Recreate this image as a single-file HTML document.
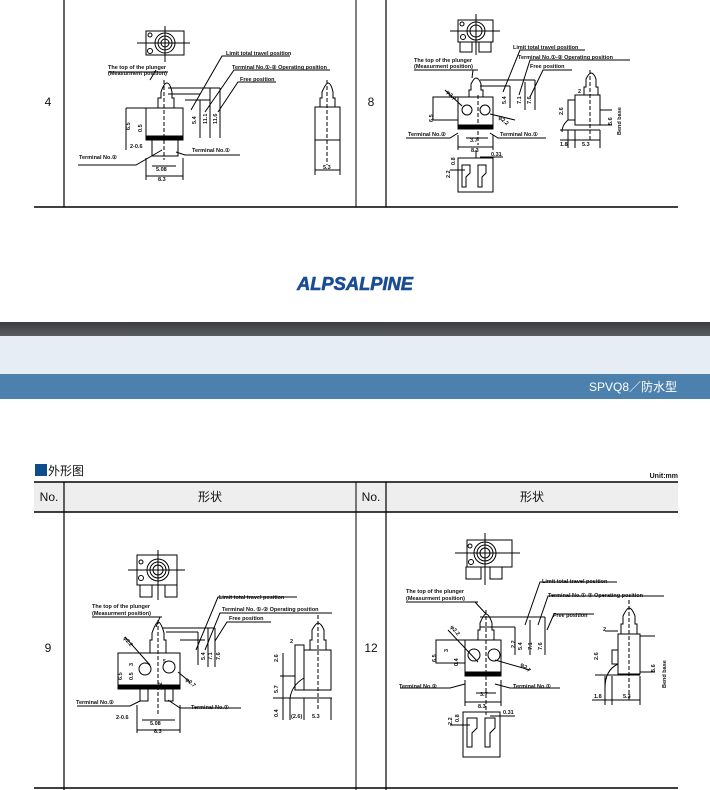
<!DOCTYPE html>
<html><head><meta charset="utf-8"><style>
html,body{margin:0;padding:0;background:#fff;width:710px;height:790px;overflow:hidden;position:relative;font-family:"Liberation Sans","Noto Sans CJK SC",sans-serif}
.a{position:absolute}
svg text{font-family:"Liberation Sans",sans-serif;font-weight:bold;fill:#111}
</style></head><body>
<svg class="a" style="left:0;top:0" width="710" height="790" viewBox="0 0 710 790">
<g stroke="#000" fill="none">
<line x1="64" y1="0" x2="64" y2="207" stroke-width="1.2"/>
<line x1="356" y1="0" x2="356" y2="207" stroke-width="1"/>
<line x1="386" y1="0" x2="386" y2="207" stroke-width="1.2"/>
<line x1="34" y1="207" x2="678" y2="207" stroke-width="1.5"/>
</g>
<text x="48" y="106" font-size="12" style="font-weight:normal" text-anchor="middle">4</text>
<text x="371" y="106" font-size="12" style="font-weight:normal" text-anchor="middle">8</text>

<text x="297" y="290" font-size="18" textLength="116" lengthAdjust="spacingAndGlyphs" style="fill:#1a4c94;font-style:italic;font-weight:bold;stroke:#1a4c94;stroke-width:0.6">ALPSALPINE</text>

<defs><linearGradient id="g" x1="0" y1="0" x2="0" y2="1"><stop offset="0" stop-color="#3a3c3f"/><stop offset="1" stop-color="#5a5d60"/></linearGradient></defs>
<rect x="0" y="322" width="710" height="14" fill="url(#g)"/>
<rect x="0" y="336" width="710" height="38" fill="#e6edf5"/>
<rect x="0" y="374" width="710" height="25" fill="#4c80ad"/>
<text x="677" y="391" font-size="12" text-anchor="end" style="fill:#fff;font-weight:normal;font-family:'Liberation Sans','Noto Sans CJK SC',sans-serif">SPVQ8／防水型</text>

<rect x="35" y="464" width="12" height="12" fill="#0f4c8a"/>
<text x="48" y="475" font-size="12" style="font-weight:normal;font-family:'Liberation Sans','Noto Sans CJK SC',sans-serif">外形图</text>
<text x="678" y="478" font-size="7" text-anchor="end">Unit:mm</text>

<rect x="34" y="483" width="644" height="29" fill="#eeeeee"/>
<g stroke="#000" fill="none">
<line x1="34" y1="482" x2="678" y2="482" stroke-width="1.5"/>
<line x1="34" y1="512" x2="678" y2="512" stroke-width="1.5"/>
<line x1="64" y1="482" x2="64" y2="790" stroke-width="1.2"/>
<line x1="356" y1="482" x2="356" y2="790" stroke-width="1"/>
<line x1="386" y1="482" x2="386" y2="790" stroke-width="1.2"/>
<line x1="34" y1="788" x2="678" y2="788" stroke-width="1.5"/>
</g>
<g font-size="12">
<text x="49" y="501" text-anchor="middle" style="font-weight:normal">No.</text>
<text x="210" y="501" text-anchor="middle" style="font-weight:normal;font-family:'Liberation Sans','Noto Sans CJK SC',sans-serif">形状</text>
<text x="371" y="501" text-anchor="middle" style="font-weight:normal">No.</text>
<text x="532" y="501" text-anchor="middle" style="font-weight:normal;font-family:'Liberation Sans','Noto Sans CJK SC',sans-serif">形状</text>
<text x="48" y="652" text-anchor="middle" style="font-weight:normal">9</text>
<text x="371" y="652" text-anchor="middle" style="font-weight:normal">12</text>
</g>

<!-- Cell 4 -->
<g stroke="#000" fill="none" stroke-width="1">
<rect x="146" y="31" width="38" height="24"/>
<circle cx="165" cy="43" r="10"/><circle cx="165" cy="43" r="7"/><circle cx="165" cy="43" r="4"/>
<circle cx="150" cy="35" r="2"/><circle cx="150" cy="51" r="2.5"/>
<line x1="137" y1="43" x2="190" y2="43"/><line x1="165" y1="26" x2="165" y2="62"/>
<path d="M158 108 V98 H161 V92 Q164 83 167 83 Q170 83 172 92 V98 H174 V108"/>
<rect x="146" y="108" width="37" height="28"/>
<rect x="146" y="136" width="37" height="4" fill="#000"/>
<rect x="152" y="140" width="26" height="16"/>
<line x1="164" y1="80" x2="164" y2="160" stroke-dasharray="4 2"/>
<line x1="146" y1="158" x2="146" y2="180"/><line x1="183" y1="158" x2="183" y2="180"/>
<line x1="146" y1="176" x2="183" y2="176"/>
<line x1="152" y1="166" x2="176" y2="166"/>
<line x1="168" y1="88" x2="220" y2="88"/><line x1="168" y1="94" x2="200" y2="94"/><line x1="185" y1="100" x2="210" y2="100"/>
<line x1="200" y1="100" x2="200" y2="138"/><line x1="210" y1="88" x2="210" y2="138"/><line x1="220" y1="88" x2="220" y2="138"/>
<path d="M191 110 L222 56 H290"/><path d="M205 112 L234 70 H330"/><path d="M218 112 L238 82 H276"/>
<path d="M156 70 L150 80"/><line x1="108" y1="72" x2="168" y2="72"/>
<line x1="126" y1="108" x2="146" y2="108"/><line x1="126" y1="108" x2="126" y2="150"/>
<path d="M162 150 L136 165 H78"/><path d="M176 152 L185 155 H240"/>
<rect x="315" y="107" width="25" height="33"/>
<path d="M320 107 V98 H322 V92 Q326 83 328 83 Q331 83 333 92 V98 H335 V107"/>
<line x1="327" y1="80" x2="327" y2="165" stroke-dasharray="4 2"/>
<line x1="315" y1="140" x2="315" y2="175"/><line x1="340" y1="140" x2="340" y2="175"/><line x1="315" y1="170" x2="340" y2="170"/>
</g>
<g font-size="5.5">
<text x="108" y="69">The top of the plunger</text><text x="108" y="75">(Measurment position)</text>
<text x="226" y="55">Limit total travel position</text>
<text x="232" y="69">Terminal No.①-② Operating position</text>
<text x="240" y="81">Free position</text>
<text x="79" y="159">Terminal No.②</text>
<text x="192" y="152">Terminal No.①</text>
<text x="130" y="148">2-0.6</text><text x="156" y="171">5.08</text><text x="158" y="181">8.3</text>
<text x="323" y="169">5.3</text>
<text transform="translate(130 130) rotate(-90)">6.5</text>
<text transform="translate(142 132) rotate(-90)">0.5</text>
<text transform="translate(196 124) rotate(-90)">5.4</text>
<text transform="translate(207 124) rotate(-90)">11.1</text>
<text transform="translate(217 124) rotate(-90)">11.6</text>
</g>

<!-- Cell 8 -->
<g stroke="#000" fill="none" stroke-width="1">
<rect x="458" y="20" width="35" height="22"/>
<circle cx="476" cy="31" r="9"/><circle cx="476" cy="31" r="6"/>
<circle cx="462" cy="24" r="2"/><circle cx="463" cy="37" r="2.5"/>
<line x1="450" y1="31" x2="500" y2="31"/><line x1="476" y1="14" x2="476" y2="55"/>
<rect x="460" y="42" width="12" height="10"/><rect x="479" y="42" width="12" height="10"/>
<path d="M469 97 V90 H471 V84 Q474 78 476 78 Q479 78 481 84 V90 H483 V97"/>
<rect x="458" y="97" width="35" height="28"/>
<rect x="433" y="97" width="25" height="23"/>
<rect x="458" y="125" width="35" height="4" fill="#000"/>
<circle cx="467" cy="110" r="5"/><circle cx="485" cy="110" r="5"/>
<line x1="478" y1="95" x2="478" y2="145" stroke-dasharray="4 2"/>
<line x1="458" y1="135" x2="458" y2="150"/><line x1="493" y1="135" x2="493" y2="150"/><line x1="458" y1="147" x2="493" y2="147"/>
<line x1="466" y1="138" x2="488" y2="138"/>
<line x1="480" y1="80" x2="535" y2="80"/><line x1="480" y1="86" x2="510" y2="86"/>
<line x1="510" y1="86" x2="510" y2="108"/><line x1="525" y1="82" x2="525" y2="110"/><line x1="535" y1="80" x2="535" y2="110"/>
<path d="M503 92 L520 50 H585"/><path d="M519 95 L530 60 H630"/><path d="M530 97 L543 70 H572"/>
<line x1="414" y1="70" x2="478" y2="70"/><path d="M473 70 L472 78"/>
<path d="M462 106 L445 90"/><path d="M490 114 L515 120"/>
<path d="M458 133 L450 138 H406"/><path d="M490 133 L498 138 H546"/>
<rect x="458" y="158" width="35" height="34"/>
<path d="M462 165 h8 v8 l-4 4 v10 h-4 z M478 165 h8 v8 l-4 4 v10 h-4 z"/>
<line x1="450" y1="170" x2="465" y2="170"/><line x1="476" y1="158" x2="476" y2="150"/>
<line x1="480" y1="157" x2="503" y2="157"/>
<rect x="575" y="95" width="25" height="30"/>
<rect x="568" y="100" width="7" height="20"/>
<path d="M584 95 V87 H586 V79 Q589 73 591 73 Q594 73 596 79 V87 H598 V95"/>
<line x1="590" y1="70" x2="590" y2="140" stroke-dasharray="4 2"/>
<line x1="560" y1="130" x2="600" y2="130"/>
<path d="M568 120 Q562 125 562 132"/>
<line x1="600" y1="110" x2="612" y2="110"/><line x1="600" y1="125" x2="612" y2="125"/>
<line x1="560" y1="140" x2="600" y2="140"/><line x1="568" y1="130" x2="568" y2="148"/><line x1="600" y1="130" x2="600" y2="148"/><line x1="575" y1="130" x2="575" y2="148"/>
</g>
<g font-size="5.5">
<text x="414" y="62">The top of the plunger</text><text x="414" y="68">(Measurment position)</text>
<text x="513" y="49">Limit total travel position</text>
<text x="518" y="59">Terminal No.①-② Operating position</text>
<text x="530" y="68">Free position</text>
<text x="408" y="136">Terminal No.②</text>
<text x="500" y="136">Terminal No.①</text>
<text x="470" y="142">3.7</text><text x="471" y="152">8.3</text>
<text x="491" y="156">0.31</text>
<text x="560" y="146">1.8</text><text x="582" y="146">5.3</text>
<text x="578" y="93">2</text>
<text transform="translate(433 122) rotate(-90)">6.5</text>
<text transform="translate(506 104) rotate(-90)">5.4</text>
<text transform="translate(521 104) rotate(-90)">7.1</text>
<text transform="translate(531 104) rotate(-90)">7.6</text>
<text transform="translate(450 178) rotate(-90)">2.2</text>
<text transform="translate(455 165) rotate(-90)">0.8</text>
<text transform="translate(563 115) rotate(-90)">2.6</text>
<text transform="translate(612 125) rotate(-90)">5.6</text>
<text transform="translate(621 135) rotate(-90)">Bend base</text>
<text x="446" y="92" transform="rotate(50 446 92)">φ2.7</text>
<text x="498" y="118" transform="rotate(40 498 118)">φ2.2</text>
</g>

<!-- Cell 9 -->
<g stroke="#000" fill="none" stroke-width="1">
<rect x="137" y="555" width="40" height="30"/>
<circle cx="158" cy="570" r="11"/><circle cx="158" cy="570" r="8"/><circle cx="158" cy="570" r="5"/>
<circle cx="141" cy="562" r="2"/><circle cx="141" cy="578" r="2.5"/>
<line x1="128" y1="570" x2="185" y2="570"/><line x1="158" y1="550" x2="158" y2="600"/>
<rect x="140" y="585" width="12" height="12"/><rect x="165" y="585" width="12" height="12"/>
<path d="M150 653 V640 H152 V633 Q156 622 158 622 Q161 622 164 633 V640 H166 V653"/>
<rect x="118" y="653" width="62" height="32"/>
<rect x="118" y="685" width="62" height="4" fill="#000"/>
<circle cx="145" cy="669" r="6"/><circle cx="169" cy="667" r="6"/>
<rect x="140" y="689" width="8" height="12"/><rect x="165" y="689" width="8" height="12"/>
<line x1="158" y1="620" x2="158" y2="715" stroke-dasharray="4 2"/>
<line x1="137" y1="705" x2="137" y2="733"/><line x1="180" y1="705" x2="180" y2="733"/><line x1="137" y1="730" x2="180" y2="730"/>
<line x1="142" y1="720" x2="175" y2="720"/>
<line x1="162" y1="628" x2="215" y2="628"/><line x1="166" y1="632" x2="198" y2="632"/><line x1="180" y1="640" x2="205" y2="640"/>
<line x1="198" y1="632" x2="198" y2="665"/><line x1="208" y1="628" x2="208" y2="667"/><line x1="215" y1="628" x2="215" y2="667"/>
<path d="M196 650 L218 597 H297"/><path d="M205 650 L220 613 H332"/><path d="M215 641 L227 622 H271"/>
<line x1="92" y1="617" x2="162" y2="617"/><path d="M160 617 L156 627"/>
<path d="M125 637 L150 665"/><path d="M178 672 L190 682"/>
<path d="M140 701 L130 706 H77"/><path d="M168 700 L180 708 H241"/>
<rect x="304" y="650" width="27" height="40"/>
<rect x="295" y="645" width="9" height="45"/>
<path d="M310 650 V640 H312 V630 Q316 623 318 623 Q321 623 324 630 V640 H326 V650"/>
<line x1="318" y1="615" x2="318" y2="710" stroke-dasharray="4 2"/>
<line x1="273" y1="698" x2="332" y2="698"/><line x1="283" y1="653" x2="283" y2="720"/><line x1="290" y1="698" x2="290" y2="720"/><line x1="304" y1="698" x2="304" y2="720"/><line x1="331" y1="698" x2="331" y2="720"/>
<line x1="280" y1="676" x2="295" y2="676"/>
<path d="M290 698 Q292 685 304 678"/>
</g>
<g font-size="5.5">
<text x="92" y="608">The top of the plunger</text><text x="92" y="615">(Measurment position)</text>
<text x="219" y="599">Limit total travel position</text>
<text x="222" y="611">Terminal No. ①-② Operating position</text>
<text x="229" y="620">Free position</text>
<text x="76" y="704">Terminal No.②</text>
<text x="191" y="709">Terminal No.①</text>
<text x="116" y="719">2-0.6</text><text x="150" y="725">5.08</text><text x="154" y="733">8.3</text>
<text x="290" y="643">2</text><text x="291" y="718">(2.6)</text><text x="312" y="718">5.3</text>
<text transform="translate(122 680) rotate(-90)">6.5</text>
<text transform="translate(133 666) rotate(-90)">3</text>
<text transform="translate(133 680) rotate(-90)">0.5</text>
<text transform="translate(162 690) rotate(-90)">2.2</text>
<text transform="translate(205 660) rotate(-90)">5.4</text>
<text transform="translate(212 660) rotate(-90)">7.1</text>
<text transform="translate(220 660) rotate(-90)">7.6</text>
<text transform="translate(278 662) rotate(-90)">2.6</text>
<text transform="translate(278 693) rotate(-90)">5.7</text>
<text transform="translate(278 717) rotate(-90)">0.4</text>
<text x="123" y="638" transform="rotate(50 123 638)">φ2.2</text>
<text x="185" y="680" transform="rotate(40 185 680)">φ2.7</text>
<text x="163" y="663" font-size="5">5</text>
</g>

<!-- Cell 12 -->
<g stroke="#000" fill="none" stroke-width="1">
<rect x="467" y="540" width="45" height="27"/>
<circle cx="485" cy="553" r="11"/><circle cx="485" cy="553" r="8"/><circle cx="485" cy="553" r="5"/>
<circle cx="470" cy="546" r="2"/><circle cx="471" cy="562" r="2.5"/>
<line x1="455" y1="553" x2="520" y2="553"/><line x1="485" y1="533" x2="485" y2="585"/>
<rect x="466" y="567" width="15" height="12"/><rect x="490" y="567" width="12" height="12"/>
<path d="M478 640 V630 H480 V623 Q484 614 486 614 Q489 614 492 623 V630 H494 V640"/>
<rect x="465" y="640" width="36" height="34"/>
<rect x="436" y="640" width="29" height="23"/>
<rect x="465" y="672" width="36" height="4" fill="#000"/>
<circle cx="474" cy="655" r="6"/><circle cx="494" cy="655" r="6"/>
<line x1="486" y1="610" x2="486" y2="715" stroke-dasharray="4 2"/>
<line x1="465" y1="680" x2="465" y2="706"/><line x1="501" y1="680" x2="501" y2="706"/><line x1="465" y1="702" x2="501" y2="702"/>
<line x1="476" y1="693" x2="496" y2="693"/>
<line x1="480" y1="617" x2="545" y2="617"/><line x1="480" y1="627" x2="515" y2="627"/>
<line x1="515" y1="627" x2="515" y2="655"/><line x1="530" y1="620" x2="530" y2="655"/><line x1="545" y1="617" x2="545" y2="655"/>
<path d="M525 625 L540 582 H617"/><path d="M538 625 L548 596 H664"/><path d="M547 630 L554 614 H594"/>
<line x1="406" y1="602" x2="478" y2="602"/><path d="M475 602 L486 614"/>
<path d="M448 630 L478 662"/><path d="M495 660 L530 670"/>
<path d="M465 684 L450 688 H400"/><path d="M495 684 L510 688 H560"/>
<rect x="463" y="712" width="37" height="45"/>
<path d="M467 718 h10 v10 l-5 5 v14 h-5 z M485 718 h10 v10 l-5 5 v14 h-5 z"/>
<line x1="450" y1="725" x2="470" y2="725"/><line x1="490" y1="716" x2="515" y2="716"/>
<rect x="618" y="634" width="22" height="40"/>
<rect x="612" y="650" width="6" height="14"/>
<path d="M621 634 V624 H623 V616 Q627 608 629 608 Q632 608 635 616 V624 H637 V634"/>
<line x1="629" y1="600" x2="629" y2="700" stroke-dasharray="4 2"/>
<line x1="595" y1="675" x2="640" y2="675"/>
<path d="M605 688 Q605 670 618 664"/>
<line x1="640" y1="636" x2="655" y2="636"/><line x1="640" y1="672" x2="655" y2="672"/>
<line x1="592" y1="700" x2="640" y2="700"/><line x1="605" y1="676" x2="605" y2="705"/><line x1="612" y1="676" x2="612" y2="705"/><line x1="640" y1="676" x2="640" y2="705"/>
<line x1="605" y1="631" x2="618" y2="631"/>
</g>
<g font-size="5.5">
<text x="406" y="593">The top of the plunger</text><text x="406" y="600">(Measurment position)</text>
<text x="542" y="583">Limit total travel position</text>
<text x="548" y="597">Terminal No.①-② Operating position</text>
<text x="553" y="617">Free position</text>
<text x="399" y="688">Terminal No.②</text>
<text x="513" y="688">Terminal No.①</text>
<text x="480" y="696">3.7</text><text x="478" y="708">8.3</text>
<text x="503" y="714">0.31</text>
<text x="594" y="698">1.8</text><text x="623" y="698">5.3</text>
<text x="603" y="631">2</text>
<text transform="translate(436 662) rotate(-90)">6.5</text>
<text transform="translate(448 652) rotate(-90)">3</text>
<text transform="translate(458 666) rotate(-90)">0.4</text>
<text transform="translate(515 648) rotate(-90)">2.2</text>
<text transform="translate(522 650) rotate(-90)">5.4</text>
<text transform="translate(532 650) rotate(-90)">7.1</text>
<text transform="translate(542 650) rotate(-90)">7.6</text>
<text transform="translate(452 725) rotate(-90)">2.2</text>
<text transform="translate(459 722) rotate(-90)">0.8</text>
<text transform="translate(598 660) rotate(-90)">2.6</text>
<text transform="translate(655 672) rotate(-90)">5.6</text>
<text transform="translate(666 688) rotate(-90)">Bend base</text>
<text x="450" y="627" transform="rotate(50 450 627)">φ2.2</text>
<text x="520" y="665" transform="rotate(40 520 665)">φ2.7</text>
</g>
</svg>
</body></html>
